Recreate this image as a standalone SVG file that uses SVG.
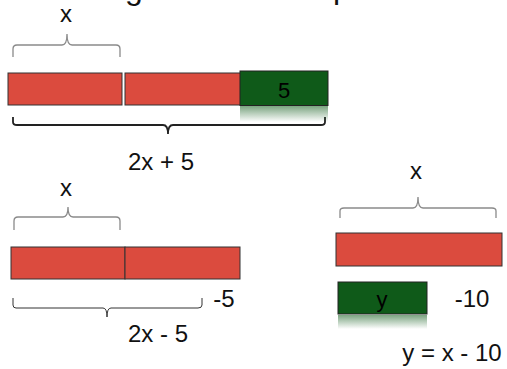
<svg xmlns="http://www.w3.org/2000/svg" width="507" height="369" viewBox="0 0 507 369">
<style>
  text { font-family: "Liberation Sans", Arial, sans-serif; fill: #111; }
  .lbl { font-size: 24px; text-anchor: middle; }
  .in { font-size: 22px; text-anchor: middle; fill: #000; }
  .red { fill: #db4b3e; stroke: #333; stroke-width: 1; }
  .grn { fill: #0f5a19; stroke: #222; stroke-width: 1; }
  .brg { fill: none; stroke: #8a8a8a; stroke-width: 1.3; }
  .brd { fill: none; stroke: #222; stroke-width: 1.8; }
  .brt { fill: none; stroke: #333; stroke-width: 1; }
</style>
<defs>
  <linearGradient id="refl" x1="0" y1="0" x2="0" y2="1">
    <stop offset="0" stop-color="#0f5a19" stop-opacity="0.55"/>
    <stop offset="1" stop-color="#0f5a19" stop-opacity="0"/>
  </linearGradient>
</defs>
<rect width="507" height="369" fill="#fff"/>
<g id="title-fragments">
  <text x="125" y="-1" style="font-size:32px">g</text>
  <text x="333" y="-2" style="font-size:32px">p</text>
</g>
<g id="connectors">
  <path class="brg" d="M13,57 V49 Q13,45 17,45 H62 Q67,45 67,34 Q67,45 72,45 H116 Q120,45 120,49 V57"/>
  <path class="brd" d="M13,117 V122 Q13,125 17,125 H163 Q168,125 168,134 Q168,125 173,125 H321 Q325,125 325,122 V117"/>
  <path class="brg" d="M14,230 V221 Q14,217 18,217 H63 Q68,217 68,207 Q68,217 73,217 H116 Q120,217 120,221 V230"/>
  <path class="brt" d="M13,298 V305 Q13,308 16,308 H103 Q107,308 107,317 Q107,308 111,308 H198 Q202,308 202,305 V298"/>
  <path class="brg" d="M340,218 V211 Q340,208 344,208 H413 Q418,208 418,197 Q418,208 423,208 H492 Q496,208 496,211 V218"/>
</g>
<g id="label-x1"><text class="lbl" x="66" y="22">x</text></g>
<g id="bar-top">
  <rect class="red" x="8" y="73" width="114" height="32"/>
  <rect class="red" x="125" y="73" width="116" height="32"/>
  <rect x="240" y="106" width="88" height="16" fill="url(#refl)"/>
  <rect class="grn" x="240" y="71" width="88" height="34.5"/>
  <text class="in" x="284" y="98">5</text>
</g>
<g id="label-2x5"><text class="lbl" x="161" y="170">2x + 5</text></g>
<g id="label-x2"><text class="lbl" x="66" y="196">x</text></g>
<g id="bar-mid">
  <rect class="red" x="11" y="247" width="114" height="32"/>
  <rect class="red" x="125" y="247" width="115" height="32"/>
</g>
<g id="label-m5"><text class="lbl" x="224" y="307">-5</text></g>
<g id="label-2xm5"><text class="lbl" x="158" y="342">2x - 5</text></g>
<g id="label-x3"><text class="lbl" x="416" y="179">x</text></g>
<g id="bar-right">
  <rect class="red" x="336" y="233" width="166" height="33"/>
</g>
<g id="bar-y">
  <rect x="338" y="315" width="89" height="14" fill="url(#refl)"/>
  <rect class="grn" x="338" y="282" width="89" height="32"/>
  <text class="in" x="382" y="307">y</text>
</g>
<g id="label-m10"><text class="lbl" x="472" y="307">-10</text></g>
<g id="label-eq"><text class="lbl" x="452" y="361">y = x - 10</text></g>
</svg>
